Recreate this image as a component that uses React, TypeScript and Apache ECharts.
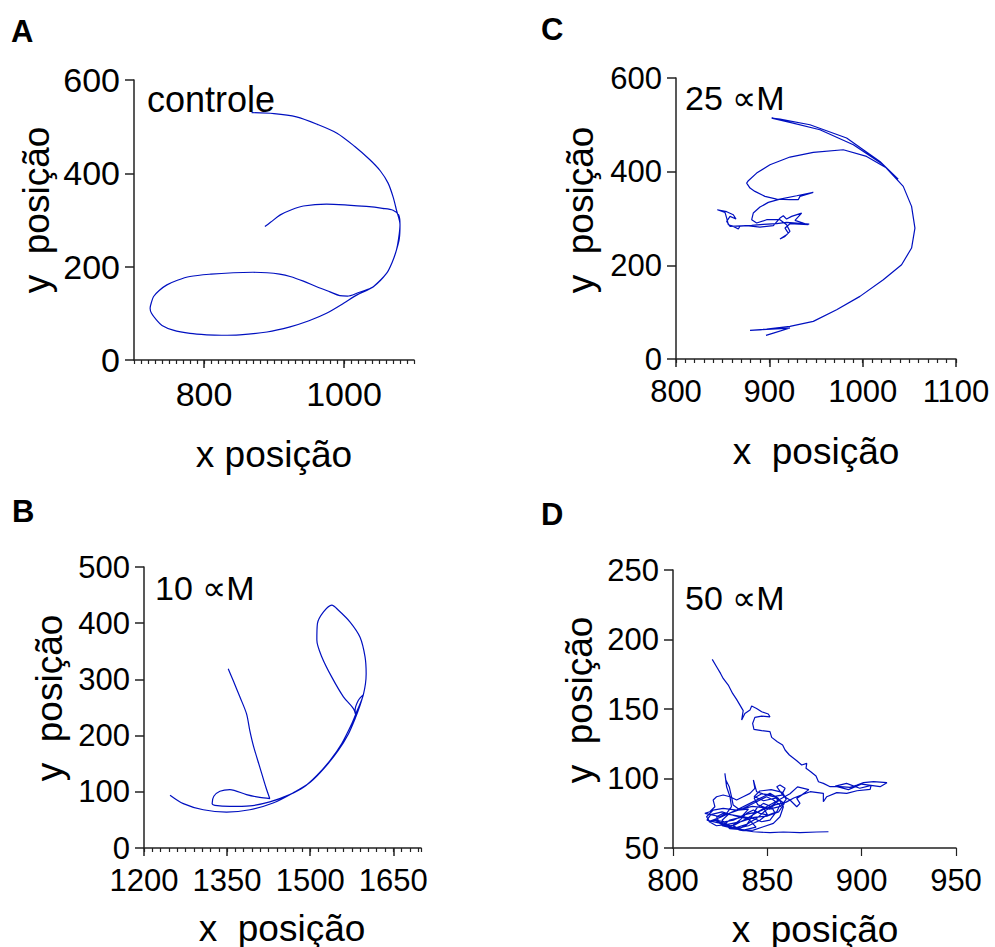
import React, { useEffect, useRef } from "react";
import * as echarts from "echarts";

// ---------- DATA ----------
// Panel A (controle)
const controleX = [887, 895, 909, 925, 942, 975, 1005, 1032, 1055, 1070, 1078, 1080, 1078, 1075, 1069, 1061, 1042, 1018, 1000, 975, 950, 923, 890, 851, 825, 804, 780, 756, 740, 732, 725, 723, 725, 728, 736, 747, 762, 780, 810, 842, 870, 890, 908, 923, 942, 961, 980, 994, 1005, 1020, 1035, 1042, 1061, 1069, 1075, 1079, 1080, 1075, 1070, 1063, 1052, 1037, 1015, 990, 962, 932, 900, 868];
const controleY = [286, 295, 311, 322, 330, 334, 332, 329, 325, 321, 311, 290, 260, 236, 210, 186, 157, 139, 122, 100, 84, 71, 60, 54, 53, 54, 57, 64, 74, 86, 100, 111, 124, 136, 149, 161, 171, 179, 184, 187, 188, 187, 184, 179, 169, 157, 146, 138, 137, 144, 152, 157, 186, 210, 236, 260, 290, 321, 350, 379, 405, 429, 458, 486, 505, 521, 528, 530];

// Panel B (10 ∝M)
const um10X = [1352, 1361, 1373, 1385, 1391, 1398, 1409, 1420, 1427, 1409, 1385, 1355, 1337, 1326, 1323, 1328, 1355, 1391, 1427, 1463, 1488, 1512, 1536, 1557, 1575, 1585, 1596, 1601, 1599, 1590, 1572, 1551, 1539, 1524, 1513, 1512, 1521, 1539, 1560, 1578, 1583, 1581, 1587, 1596, 1590, 1581, 1569, 1551, 1527, 1500, 1469, 1433, 1391, 1349, 1307, 1271, 1247];
const um10Y = [319, 298, 269, 239, 209, 180, 144, 108, 88, 90, 95, 104, 101, 92, 79, 76, 74, 75, 82, 95, 108, 129, 156, 186, 221, 245, 273, 310, 340, 375, 402, 423, 432, 420, 399, 370, 340, 304, 269, 248, 233, 245, 263, 273, 254, 230, 203, 174, 144, 117, 98, 80, 68, 64, 68, 79, 94];

// Panel C (25 ∝M)
const um25X = [942.8, 929.3, 918.5, 907.8, 893.5, 881.1, 868.6, 866.8, 861.4, 856.1, 854.3, 852.5, 844.3, 854.3, 861.4, 864.3, 857.9, 854.3, 857.9, 875.7, 890.0, 904.3, 911.4, 915.0, 918.5, 923.9, 934.6, 927.5, 941.7, 922.1, 916.8, 920.3, 916.8, 911.4, 918.5, 922.1, 918.5, 911.4, 897.1, 886.4, 881.1, 882.8, 890.0, 898.9, 911.4, 929.3, 947.1, 932.8, 931.0, 922.1, 907.8, 895.3, 884.6, 879.3, 875.7, 877.5, 886.4, 900.7, 922.1, 947.1, 979.2, 1004.2, 1025.6, 1038.1, 1018.5, 982.8, 943.5, 911.4, 902.5, 922.1, 954.2, 990.0, 1022.1, 1043.5, 1052.4, 1056.0, 1052.4, 1041.7, 1022.1, 997.1, 972.1, 947.1, 922.1, 897.1, 879.3, 922.1, 904.3, 896.4];
const um25Y = [288.1, 290.3, 291.7, 288.9, 287.4, 285.3, 283.9, 277.5, 283.2, 286.7, 300.9, 313.0, 318.7, 314.5, 308.1, 298.8, 304.5, 293.8, 283.2, 284.6, 281.7, 284.6, 301.0, 305.9, 298.8, 304.5, 311.6, 296.0, 286.7, 288.9, 279.6, 268.9, 261.8, 256.1, 265.4, 272.5, 286.7, 297.4, 297.4, 290.3, 297.4, 311.6, 324.4, 334.4, 341.5, 348.6, 355.8, 347.2, 340.1, 340.1, 341.5, 347.2, 357.9, 365.0, 375.7, 380.7, 397.0, 414.8, 431.2, 441.2, 446.8, 432.6, 407.7, 384.2, 421.9, 471.8, 500.2, 512.3, 514.5, 505.2, 489.5, 457.5, 414.8, 368.6, 325.9, 279.6, 236.9, 201.3, 169.3, 133.7, 105.2, 80.3, 69.6, 63.9, 61.1, 66.1, 55.4, 50.4];

// Panel D (50 ∝M) — [x, y] points in path order
const um50Path: [number, number][] = [
  [820.8, 185.7], [823.1, 180.4], [825.2, 175.6], [826.6, 172.0], [829.3, 167.2], [831.6, 161.2], [833.7, 156.9],
  [835.5, 152.8], [837.2, 148.8], [836.4, 142.1], [838.1, 146.8], [840.8, 149.2], [841.7, 152.1], [844.3, 150.4],
  [847.0, 148.0], [850.5, 146.4], [851.4, 144.4], [847.0, 144.9], [843.4, 144.0], [842.2, 139.6], [842.9, 135.3],
  [847.0, 134.4], [851.4, 133.7], [852.3, 129.6], [855.3, 126.5], [858.1, 124.1], [859.4, 120.5], [861.7, 116.9],
  [865.6, 112.8], [868.2, 109.7], [870.9, 110.9], [870.5, 107.3], [873.0, 104.9], [875.8, 101.8], [877.1, 97.7],
  [879.7, 96.5], [883.3, 94.1], [888.6, 94.1], [893.9, 93.6], [897.5, 95.3], [901.0, 97.0], [906.3, 97.7],
  [913.4, 97.0], [909.8, 94.1], [900.0, 96.0], [893.0, 92.0], [886.0, 94.5], [892.0, 96.5], [899.0, 93.0],
  [905.0, 95.0], [904.5, 92.2], [897.5, 91.2], [892.1, 89.3], [886.8, 89.8], [881.5, 86.9], [879.7, 83.3],
  [879.7, 89.3], [872.7, 90.5], [869.1, 88.8], [865.6, 85.7], [867.3, 82.1], [865.6, 79.7], [862.0, 84.5],
  [858.5, 87.4], [855.0, 94.1], [856.7, 95.3], [859.4, 92.9], [857.6, 88.1], [853.2, 86.9], [849.6, 88.1],
  [844.3, 90.5], [842.6, 98.9], [843.4, 92.9], [840.8, 89.3], [837.2, 86.9], [833.7, 84.5], [830.2, 86.9],
  [826.6, 88.1], [823.1, 86.9], [821.3, 84.5], [822.2, 79.7], [819.5, 76.1], [816.9, 74.9], [821.3, 73.7],
  [824.8, 72.5], [828.4, 74.9], [831.0, 79.7], [830.2, 86.9], [828.4, 94.1], [827.5, 103.7], [828.0, 98.9],
  [829.8, 94.1], [831.0, 86.9], [831.9, 80.9], [835.5, 77.3], [839.0, 79.7], [844.3, 83.3], [849.6, 86.9],
  [853.2, 84.5], [856.7, 80.9], [855.0, 76.1], [850.5, 73.7], [846.1, 74.9], [842.6, 77.3], [839.0, 74.9],
  [835.5, 70.1], [831.9, 66.5], [828.4, 65.3], [824.8, 67.7], [823.1, 72.5], [826.6, 74.9], [831.9, 73.7],
  [837.2, 72.5], [842.6, 71.3], [847.0, 68.9], [851.4, 70.1], [854.1, 74.9], [852.3, 79.7], [847.9, 82.1],
  [844.3, 78.5], [841.7, 72.5], [839.0, 66.5], [835.5, 64.1], [831.0, 65.3], [826.6, 68.9], [823.1, 70.1],
  [819.5, 68.9], [817.8, 72.5], [821.3, 77.3], [826.6, 78.5], [833.7, 77.3], [840.8, 82.1], [846.1, 85.7],
  [851.4, 89.3], [855.8, 85.7], [858.5, 79.7], [856.7, 72.5], [853.2, 67.7], [847.9, 65.3], [842.6, 62.9],
  [837.2, 62.4], [835.5, 62.9],
  [822.0, 70.0], [828.0, 66.0], [834.0, 64.0], [840.0, 66.0], [846.0, 70.0], [850.0, 74.0], [848.0, 79.0],
  [842.0, 80.0], [836.0, 78.0], [830.0, 75.0], [826.0, 70.0], [830.0, 64.0], [838.0, 63.0], [844.0, 65.0],
  [840.0, 71.0], [833.0, 73.0], [826.0, 76.0], [820.0, 74.0], [818.0, 70.0], [824.0, 68.0], [832.0, 70.0],
  [838.0, 74.0], [845.0, 76.0], [852.0, 80.0], [856.0, 84.0], [853.0, 88.0], [847.0, 89.0], [843.0, 86.0],
  [845.0, 81.0], [851.0, 78.0], [857.0, 80.0], [860.0, 85.0], [858.0, 90.0], [852.0, 92.0], [846.0, 91.0],
  [843.0, 87.0], [848.0, 84.0], [855.0, 86.0], [859.0, 82.0], [856.0, 76.0], [850.0, 73.0], [843.0, 72.0],
  [836.0, 69.0], [829.0, 67.0], [823.0, 66.0], [819.0, 69.0], [825.0, 72.0], [833.0, 77.0], [840.0, 78.0],
  [836.0, 72.0], [830.0, 70.0], [826.0, 66.0], [832.0, 64.0], [839.0, 67.0], [845.0, 72.0], [849.0, 77.0],
  [854.0, 81.0], [860.0, 83.0], [864.0, 86.0], [868.0, 88.0], [872.0, 92.0], [866.0, 94.0], [862.0, 89.0],
  [850.0, 80.0], [840.0, 72.0], [832.0, 66.0], [836.0, 63.0],
  [842.6, 61.7], [851.4, 61.0], [858.5, 61.5], [867.3, 61.0], [876.2, 61.5], [882.4, 61.7],
];

// Axis ticks
const xMajorA = [800, 1000];
const xMajorB = [1200, 1350, 1500, 1650];
const xMajorC = [800, 900, 1000, 1100];
const xMajorD = [800, 850, 900, 950];

const panelLetters = ["A", "B", "C", "D"];
const panelLabels = ["controle", "10 ∝M", "25 ∝M", "50 ∝M"];
const xTitles = ["x posição", "x  posição", "x  posição", "x  posição"];
const yTitles = ["y  posição", "y  posição", "y  posição", "y  posição"];

// ---------- LAYOUT ----------
const FONT = "'Liberation Sans', Arial, sans-serif";
const LINE = "#0010c0";
const AX = "#222222";

type Panel = {
  pts: [number, number][];
  left: number; top: number; width: number; height: number;
  xMin: number; xMax: number; xMinor: number; xMajor: number[];
  yMin: number; yMax: number; yStep: number;
  labelSize: number; textSize: number; smooth: number | boolean;
  letterPos: [number, number]; labelPos: [number, number];
  xTitlePos: [number, number]; yTitlePos: [number, number];
  hasMinor: boolean;
};

const zip = (xs: number[], ys: number[]): [number, number][] => xs.map((x, k) => [x, ys[k]]);

const panels: Panel[] = [
  {
    pts: zip(controleX, controleY), left: 134, top: 80, width: 280, height: 280,
    xMin: 700, xMax: 1100, xMinor: 10, xMajor: xMajorA, yMin: 0, yMax: 600, yStep: 200,
    labelSize: 34, textSize: 36, smooth: 0.3, letterPos: [11, 31], labelPos: [147, 99],
    xTitlePos: [274, 454], yTitlePos: [36, 210], hasMinor: true,
  },
  {
    pts: zip(um10X, um10Y), left: 144, top: 567, width: 277, height: 281,
    xMin: 1200, xMax: 1700, xMinor: 15, xMajor: xMajorB, yMin: 0, yMax: 500, yStep: 100,
    labelSize: 31, textSize: 34, smooth: 0.3, letterPos: [12, 511], labelPos: [155, 588],
    xTitlePos: [282, 928], yTitlePos: [49, 698], hasMinor: true,
  },
  {
    pts: zip(um25X, um25Y), left: 676, top: 78, width: 280, height: 281,
    xMin: 800, xMax: 1100, xMinor: 10, xMajor: xMajorC, yMin: 0, yMax: 600, yStep: 200,
    labelSize: 31, textSize: 34, smooth: false, letterPos: [541, 29], labelPos: [685, 98],
    xTitlePos: [816, 451], yTitlePos: [580, 210], hasMinor: true,
  },
  {
    pts: um50Path, left: 673, top: 570, width: 283, height: 278,
    xMin: 800, xMax: 950, xMinor: 50, xMajor: xMajorD, yMin: 50, yMax: 250, yStep: 50,
    labelSize: 31, textSize: 34, smooth: false, letterPos: [541, 514], labelPos: [685, 598],
    xTitlePos: [815, 929], yTitlePos: [579, 700], hasMinor: false,
  },
];

const fmt = (v: number) => String(v);

function buildOption() {
  const grid: any[] = [];
  const xAxis: any[] = [];
  const yAxis: any[] = [];
  const series: any[] = [];
  const graphic: any[] = [];

  panels.forEach((p, i) => {
    grid.push({ left: p.left, top: p.top, width: p.width, height: p.height, containLabel: false });
    xAxis.push({
      gridIndex: i, type: "value", position: "bottom", offset: 0,
      min: p.xMin, max: p.xMax, interval: p.xMinor,
      axisLine: { show: true, onZero: false, lineStyle: { color: AX, width: 1.5 } },
      axisTick: { show: true, length: p.hasMinor ? 4 : 8, lineStyle: { color: AX, width: 1.2 } },
      axisLabel: {
        show: true, customValues: p.xMajor, formatter: fmt, fontSize: p.labelSize,
        fontFamily: FONT, color: "#000", margin: 17, showMinLabel: true, showMaxLabel: true,
      },
      splitLine: { show: false },
    });
    xAxis.push({
      gridIndex: i, type: "value", position: "bottom", offset: 0,
      min: p.xMin, max: p.xMax, interval: p.xMinor,
      axisLine: { show: false, onZero: false },
      axisTick: { show: p.hasMinor, customValues: p.xMajor, length: 8, lineStyle: { color: AX, width: 1.5 } },
      axisLabel: { show: false },
      splitLine: { show: false },
    });
    yAxis.push({
      gridIndex: i, type: "value", min: p.yMin, max: p.yMax, interval: p.yStep,
      axisLine: { show: true, onZero: false, lineStyle: { color: AX, width: 1.5 } },
      axisTick: { show: true, length: 9, lineStyle: { color: AX, width: 1.5 } },
      axisLabel: { fontSize: p.labelSize, fontFamily: FONT, color: "#000", margin: 14, formatter: fmt },
      splitLine: { show: false },
    });
    series.push({
      type: "line", xAxisIndex: 2 * i, yAxisIndex: i,
      data: p.pts,
      showSymbol: false, symbol: "none", smooth: p.smooth, silent: true,
      lineStyle: { color: LINE, width: 1.2 },
    });
    graphic.push({
      type: "text", x: p.letterPos[0], y: p.letterPos[1],
      style: {
        text: panelLetters[i], fontSize: 31, fontWeight: "bold", fontFamily: FONT,
        fill: "#000", align: "left", verticalAlign: "middle",
      },
    });
    graphic.push({
      type: "text", x: p.labelPos[0], y: p.labelPos[1],
      style: {
        text: panelLabels[i], fontSize: p.textSize, fontFamily: FONT,
        fill: "#000", align: "left", verticalAlign: "middle",
      },
    });
    graphic.push({
      type: "text", x: p.xTitlePos[0], y: p.xTitlePos[1],
      style: {
        text: xTitles[i], fontSize: 37, fontFamily: FONT,
        fill: "#000", align: "center", verticalAlign: "middle",
      },
    });
    graphic.push({
      type: "text", x: p.yTitlePos[0], y: p.yTitlePos[1], rotation: Math.PI / 2,
      style: {
        text: yTitles[i], fontSize: 37, fontFamily: FONT,
        fill: "#000", align: "center", verticalAlign: "middle",
      },
    });
  });

  return {
    animation: false,
    backgroundColor: "#ffffff",
    textStyle: { fontFamily: FONT },
    grid, xAxis, yAxis, series, graphic,
  };
}

export default function App() {
  const ref = useRef<HTMLDivElement>(null);
  useEffect(() => {
    if (!ref.current) return;
    const chart = echarts.init(ref.current, null, { renderer: "svg" });
    chart.setOption(buildOption() as any);
    return () => chart.dispose();
  }, []);
  return (
    <div
      ref={ref}
      style={{ position: "fixed", left: 0, top: 0, width: 995, height: 947, background: "#fff" }}
    />
  );
}
